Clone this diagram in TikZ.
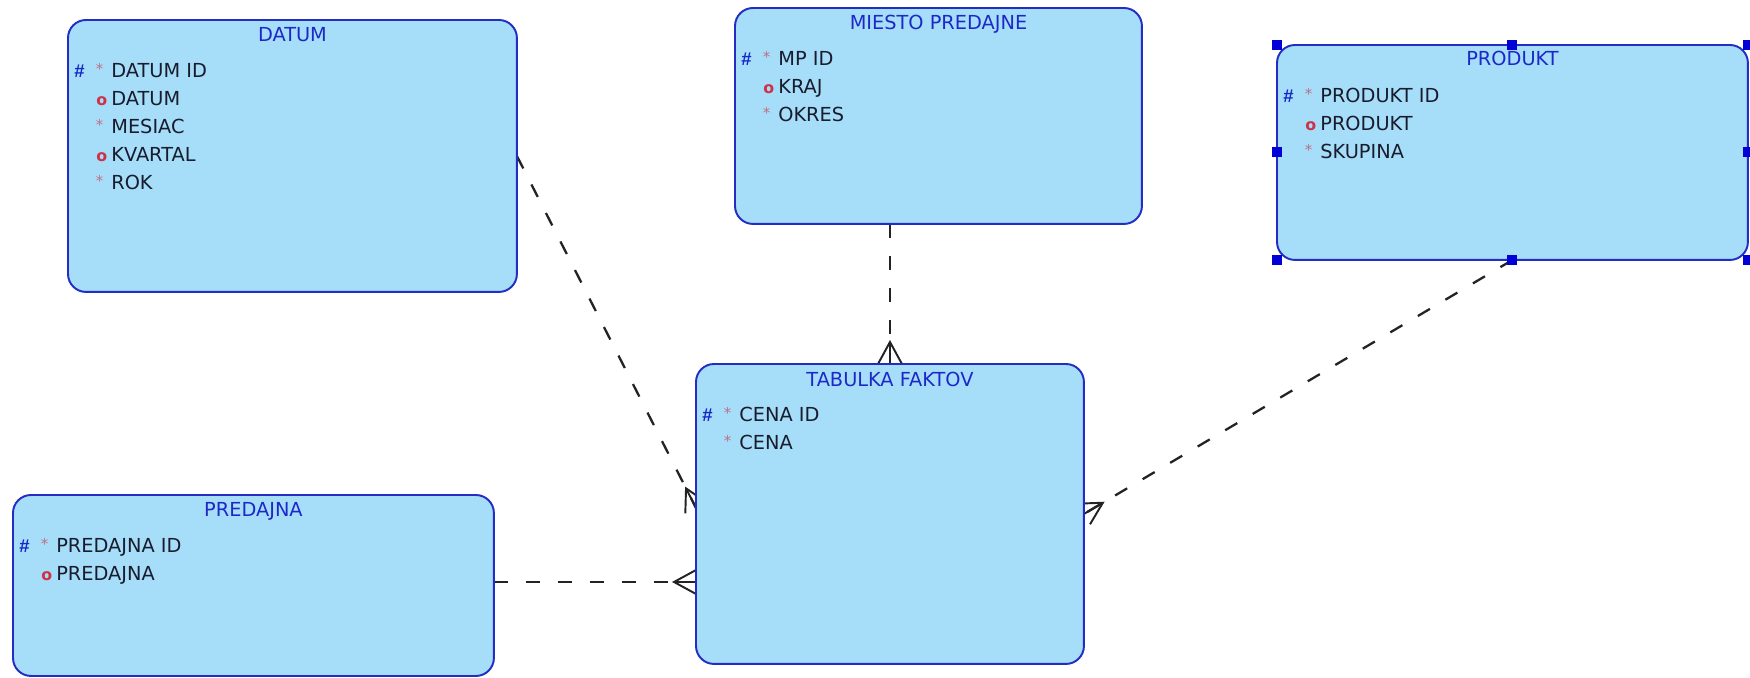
\documentclass[tikz,border=0pt]{standalone}
\usepackage{fontspec}
\setmainfont{DejaVu Sans}
\newfontfamily\markfont{Liberation Sans}
\usetikzlibrary{calc}
\pgfdeclarelayer{background}
\pgfsetlayers{background,main}
\definecolor{entfill}{RGB}{166,222,250}
\definecolor{entline}{RGB}{35,45,195}
\definecolor{ttlc}{RGB}{30,40,200}
\definecolor{attrc}{RGB}{25,28,45}
\definecolor{starc}{RGB}{190,110,135}
\definecolor{oc}{RGB}{205,50,70}
\definecolor{hashc}{RGB}{20,40,200}
\definecolor{linec}{RGB}{35,35,35}
\definecolor{handlec}{RGB}{0,0,215}
\tikzset{
  ent/.style={draw=entline, fill=entfill, line width=1.1pt, rounded corners=0.36cm,
    inner sep=0pt, outer sep=0pt, anchor=north west},
  ttl/.style={text=ttlc, font=\fontsize{11}{13}\selectfont, anchor=base, inner sep=0pt},
  attr/.style={text=attrc, font=\fontsize{11}{13}\selectfont, anchor=base west, inner sep=0pt},
  hashm/.style={text=hashc, font=\markfont\bfseries\fontsize{10.5}{11}\selectfont, anchor=base west, inner sep=0pt},
  starm/.style={text=starc, font=\fontsize{8.5}{9}\selectfont, anchor=base west, inner sep=0pt},
  om/.style={text=oc, font=\bfseries\fontsize{9}{10}\selectfont, anchor=base west, inner sep=0pt},
  rel/.style={draw=linec, line width=1.3pt, dash pattern=on 0.28cm off 0.36cm},
  foot/.style={draw=linec, line width=1.1pt},
  handlebox/.style={fill=handlec, draw=none, minimum size=0.2cm, inner sep=0pt}
}
% primary key row
\newcommand\pkrow[3]{%
  \node[hashm] (#1-h#2) at ([xshift=0.12cm, yshift={-1.16cm-0.56cm*#2}]#1.north west) {\#};
  \node[starm] (#1-s#2) at ([xshift=0.55cm, yshift={-1.09cm-0.56cm*#2}]#1.north west) {*};
  \node[attr] (#1-r#2) at ([xshift=0.86cm, yshift={-1.16cm-0.56cm*#2}]#1.north west) {#3};}
% mandatory row
\newcommand\mrow[3]{%
  \node[starm] (#1-s#2) at ([xshift=0.55cm, yshift={-1.09cm-0.56cm*#2}]#1.north west) {*};
  \node[attr] (#1-r#2) at ([xshift=0.86cm, yshift={-1.16cm-0.56cm*#2}]#1.north west) {#3};}
% optional row
\newcommand\orow[3]{%
  \node[om] (#1-o#2) at ([xshift=0.56cm, yshift={-1.16cm-0.56cm*#2}]#1.north west) {o};
  \node[attr] (#1-r#2) at ([xshift=0.86cm, yshift={-1.16cm-0.56cm*#2}]#1.north west) {#3};}
% crow's foot at #1 (on the box edge), line coming from #2
\newcommand\crowfoot[2]{%
  \draw[foot] ($(#1)!0.44cm!(#2)$) -- (#1);
  \draw[foot] ($(#1)!0.24cm!90:(#2)$) -- ($(#1)!0.44cm!(#2)$) -- ($(#1)!0.24cm!-90:(#2)$);}
\begin{document}
\begin{tikzpicture}[x=0.02cm, y=-0.02cm]
\useasboundingbox (0,0) rectangle (1750,678);

% entities
\node[ent, minimum width=8.98cm, minimum height=5.44cm] (datum) at (68,20) {};
\node[ttl] (datum-t) at ([yshift=-0.44cm]datum.north) {DATUM};
\pkrow{datum}{0}{DATUM ID}
\orow{datum}{1}{DATUM}
\mrow{datum}{2}{MESIAC}
\orow{datum}{3}{KVARTAL}
\mrow{datum}{4}{ROK}

\node[ent, minimum width=8.14cm, minimum height=4.32cm] (mp) at (735,8) {};
\node[ttl] (mp-t) at ([yshift=-0.44cm]mp.north) {MIESTO PREDAJNE};
\pkrow{mp}{0}{MP ID}
\orow{mp}{1}{KRAJ}
\mrow{mp}{2}{OKRES}

\node[ent, minimum width=9.42cm, minimum height=4.30cm] (prod) at (1277,45) {};
\node[ttl] (prod-t) at ([yshift=-0.42cm]prod.north) {PRODUKT};
\pkrow{prod}{0}{PRODUKT ID}
\orow{prod}{1}{PRODUKT}
\mrow{prod}{2}{SKUPINA}

\node[ent, minimum width=7.76cm, minimum height=6.00cm] (tab) at (696,364) {};
\node[ttl] (tab-t) at ([yshift=-0.46cm]tab.north) {TABULKA FAKTOV};
\pkrow{tab}{0}{CENA ID}
\mrow{tab}{1}{CENA}

\node[ent, minimum width=9.62cm, minimum height=3.62cm] (pred) at (13,495) {};
\node[ttl] (pred-t) at ([yshift=-0.44cm]pred.north) {PREDAJNA};
\pkrow{pred}{0}{PREDAJNA ID}
\orow{pred}{1}{PREDAJNA}

% selection handles on PRODUKT
\foreach \a in {north west,north,north east,west,east,south west,south,south east}
  \node[handlebox] (prod-\a) at (prod.\a) {};

% relationships
\begin{pgfonlayer}{background}
\fill[white] (0,0) rectangle (1750,678);
\coordinate (c1e) at ([yshift=0.12cm]tab.west);
\draw[rel] (datum.east) -- (c1e);
\crowfoot{c1e}{datum.east}

\coordinate (c2s) at ([xshift=-0.97cm]mp.south);
\coordinate (c2e) at (c2s |- tab.north);
\draw[rel] (c2s) -- (c2e);
\crowfoot{c2e}{c2s}

\draw[rel] (prod.south) -- (tab.east);
\crowfoot{tab.east}{prod.south}

\coordinate (c4s) at ([yshift=0.07cm]pred.east);
\coordinate (c4e) at (tab.west |- c4s);
\draw[rel] (c4s) -- (c4e);
\crowfoot{c4e}{c4s}
\end{pgfonlayer}
\end{tikzpicture}
\end{document}
